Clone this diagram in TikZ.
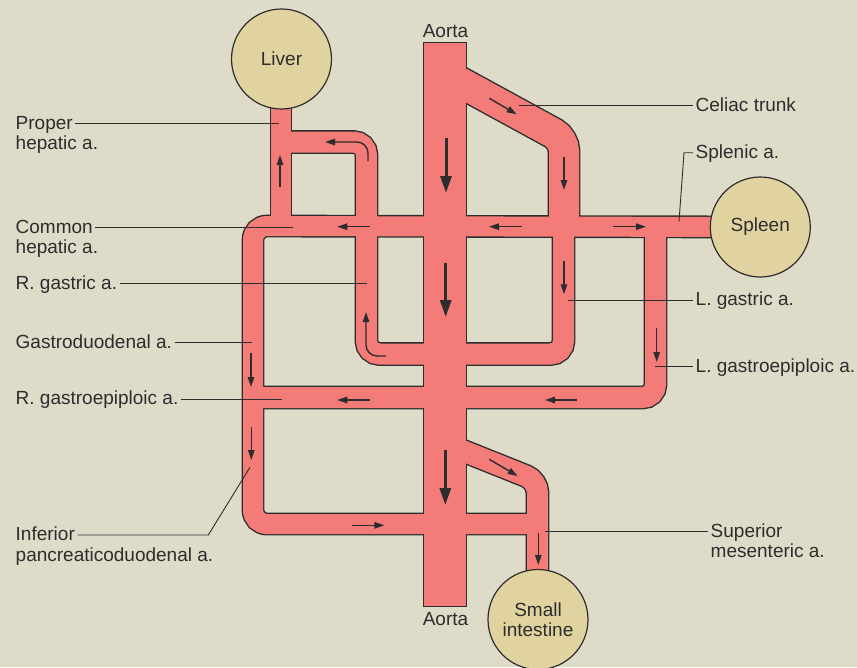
\documentclass[tikz,border=0pt]{standalone}
\usepackage{fontspec}
\setmainfont{Liberation Sans}
\usetikzlibrary{positioning,arrows.meta}
\definecolor{bgc}{RGB}{222,219,200}
\definecolor{vesselc}{RGB}{243,124,120}
\definecolor{organc}{RGB}{224,211,160}
\definecolor{inkc}{RGB}{45,45,45}
\tikzset{
  organ/.style   = {circle, draw=inkc, line width=1.2pt, fill=organc, minimum size=100pt,
                    inner sep=0pt, align=center, text=inkc, font=\fontsize{19}{20.5}\selectfont},
  lbl/.style     = {text=inkc, inner xsep=2.5pt, inner ysep=0pt, text height=15.8pt,
                    text depth=3.9pt, font=\fontsize{19}{20}\selectfont},
  lead/.style    = {draw=inkc, line width=0.9pt},
  flow/.style    = {-{Triangle[length=10pt,width=6.5pt]}, draw=inkc, line width=1.4pt},
  bigflow/.style = {-{Triangle[length=17pt,width=11pt]}, draw=inkc, line width=3pt},
}
% the arterial tree, drawn once as a rim and once as the lumen
\newcommand{\vesselnet}[2]{%
  \begin{scope}[draw=#1, fill=#1, line cap=butt]
    \fill (424-#2/2,43-#2/2) rectangle (466+#2/2,606+#2/2);
    \draw[line width=30+#2, rounded corners=12] (445,74) -- (564,139) -- (564,226);
    \draw[line width=21+#2, rounded corners=13] (liverc|-0,142) -- (366.5,142) -- (366.5,354)
      -- (563.5,354) -- (563.5,226);
    \draw[line width=20+#2, rounded corners=14] (spleenc) -- (253,226) -- (253,524) -- (537.5,524);
    \draw[line width=20+#2] (liverc) -- (281,226);
    \draw[line width=21+#2, rounded corners=13] (253,397.5) -- (655.5,397.5) -- (655.5,226);
    \draw[line width=21+#2, rounded corners=12] (445,443.6) -- (537.5,480.6) -- (gutc);
  \end{scope}}

\begin{document}
\begin{tikzpicture}[x=1pt, y=-1pt]

\useasboundingbox (0,0) rectangle (857,667);
\fill[bgc] (0,0) rectangle (857,667);

\coordinate (liverc) at (281,59);
\coordinate (spleenc) at (760.3,227);
\coordinate (gutc) at (537.5,620);

\vesselnet{inkc}{2.8}
\vesselnet{vesselc}{0}

% flow marks
\draw[bigflow] (446,138) -- (446,193);
\draw[bigflow] (445.7,263) -- (445.7,317);
\draw[bigflow] (445.3,450) -- (445.3,505);
\draw[flow] (280,187) -- (280,155);
\draw[flow, rounded corners=11] (368,161) |- (325,142);
\draw[flow] (489.3,98.3) -- (516.7,114.3);
\draw[flow] (564,157) -- (564,190);
\draw[flow] (370,226.7) -- (337.3,226.7);
\draw[flow] (521.7,226.7) -- (489,226.7);
\draw[flow] (613.3,226.7) -- (646,226.7);
\draw[flow] (564,261) -- (564,294.3);
\draw[flow, rounded corners=11] (386,356) -| (366,312);
\draw[flow] (251,353) -- (251,387);
\draw[flow] (656.7,328) -- (656.7,362);
\draw[flow] (370,400) -- (337.3,400);
\draw[flow] (577.3,400) -- (545,400);
\draw[flow] (251.3,427) -- (251.3,460);
\draw[flow] (489.3,459.3) -- (517.7,476);
\draw[flow] (352.3,525.3) -- (384.3,525.3);
\draw[flow] (538.3,533) -- (538.3,565);

\node[organ] (liver) at (281.5,59) {Liver};
\node[organ] (spleen) at (spleenc) {Spleen};
\node[organ] (gut) at (538,619.5) {Small\\intestine};

\node[lbl, anchor=base] (aortaT) at (445.5,37.7) {Aorta};
\node[lbl, anchor=base] (aortaB) at (445.5,625.7) {Aorta};

% left labels
\node[lbl, anchor=west] (pha) at (13,123.7) {Proper};
\node[lbl, anchor=north west] (phaB) at (pha.south west) {hepatic a.};
\node[lbl, anchor=west] (cha) at (13,227.5) {Common};
\node[lbl, anchor=north west] (chaB) at (cha.south west) {hepatic a.};
\node[lbl, anchor=west] (rga) at (13,283.7) {R. gastric a.};
\node[lbl, anchor=west] (gda) at (13,342.3) {Gastroduodenal a.};
\node[lbl, anchor=west] (rgea) at (13,399) {R. gastroepiploic a.};
\node[lbl, anchor=west] (ipda) at (13,535) {Inferior};
\node[lbl, anchor=north west] (ipdaB) at (ipda.south west) {pancreaticoduodenal a.};

% right labels
\node[lbl, anchor=west] (ct) at (693,105.7) {Celiac trunk};
\node[lbl, anchor=west] (spa) at (693,152.7) {Splenic a.};
\node[lbl, anchor=west] (lga) at (693,300) {L. gastric a.};
\node[lbl, anchor=west] (lgea) at (693,366.7) {L. gastroepiploic a.};
\node[lbl, anchor=west] (sma) at (708,531.7) {Superior};
\node[lbl, anchor=north west] (smaB) at (sma.south west) {mesenteric a.};

% leader ends
\coordinate (phaE) at (279.3,123.7);
\coordinate (chaE) at (292.7,227.5);
\coordinate (rgaE) at (366.7,283.7);
\coordinate (gdaE) at (251.7,342.3);
\coordinate (rgeaE) at (281.7,399);
\coordinate (ipdaE) at (250,467.3);
\coordinate (ctE) at (519.3,105.7);
\coordinate (spaE) at (679,221.7);
\coordinate (lgaE) at (568.3,300);
\coordinate (lgeaE) at (655,366.7);
\coordinate (smaE) at (545,531.7);

\draw[lead] (pha.east) -- (phaE);
\draw[lead] (cha.east) -- (chaE);
\draw[lead] (rga.east) -- (rgaE);
\draw[lead] (gda.east) -- (gdaE);
\draw[lead] (rgea.east) -- (rgeaE);
\draw[lead] (ipda.east) -- (208.3,535) -- (ipdaE);
\draw[lead] (ct.west) -- (ctE);
\draw[lead] (spa.west) -- (684,152.7) -- (spaE);
\draw[lead] (lga.west) -- (lgaE);
\draw[lead] (lgea.west) -- (lgeaE);
\draw[lead] (sma.west) -- (smaE);

\end{tikzpicture}
\end{document}
